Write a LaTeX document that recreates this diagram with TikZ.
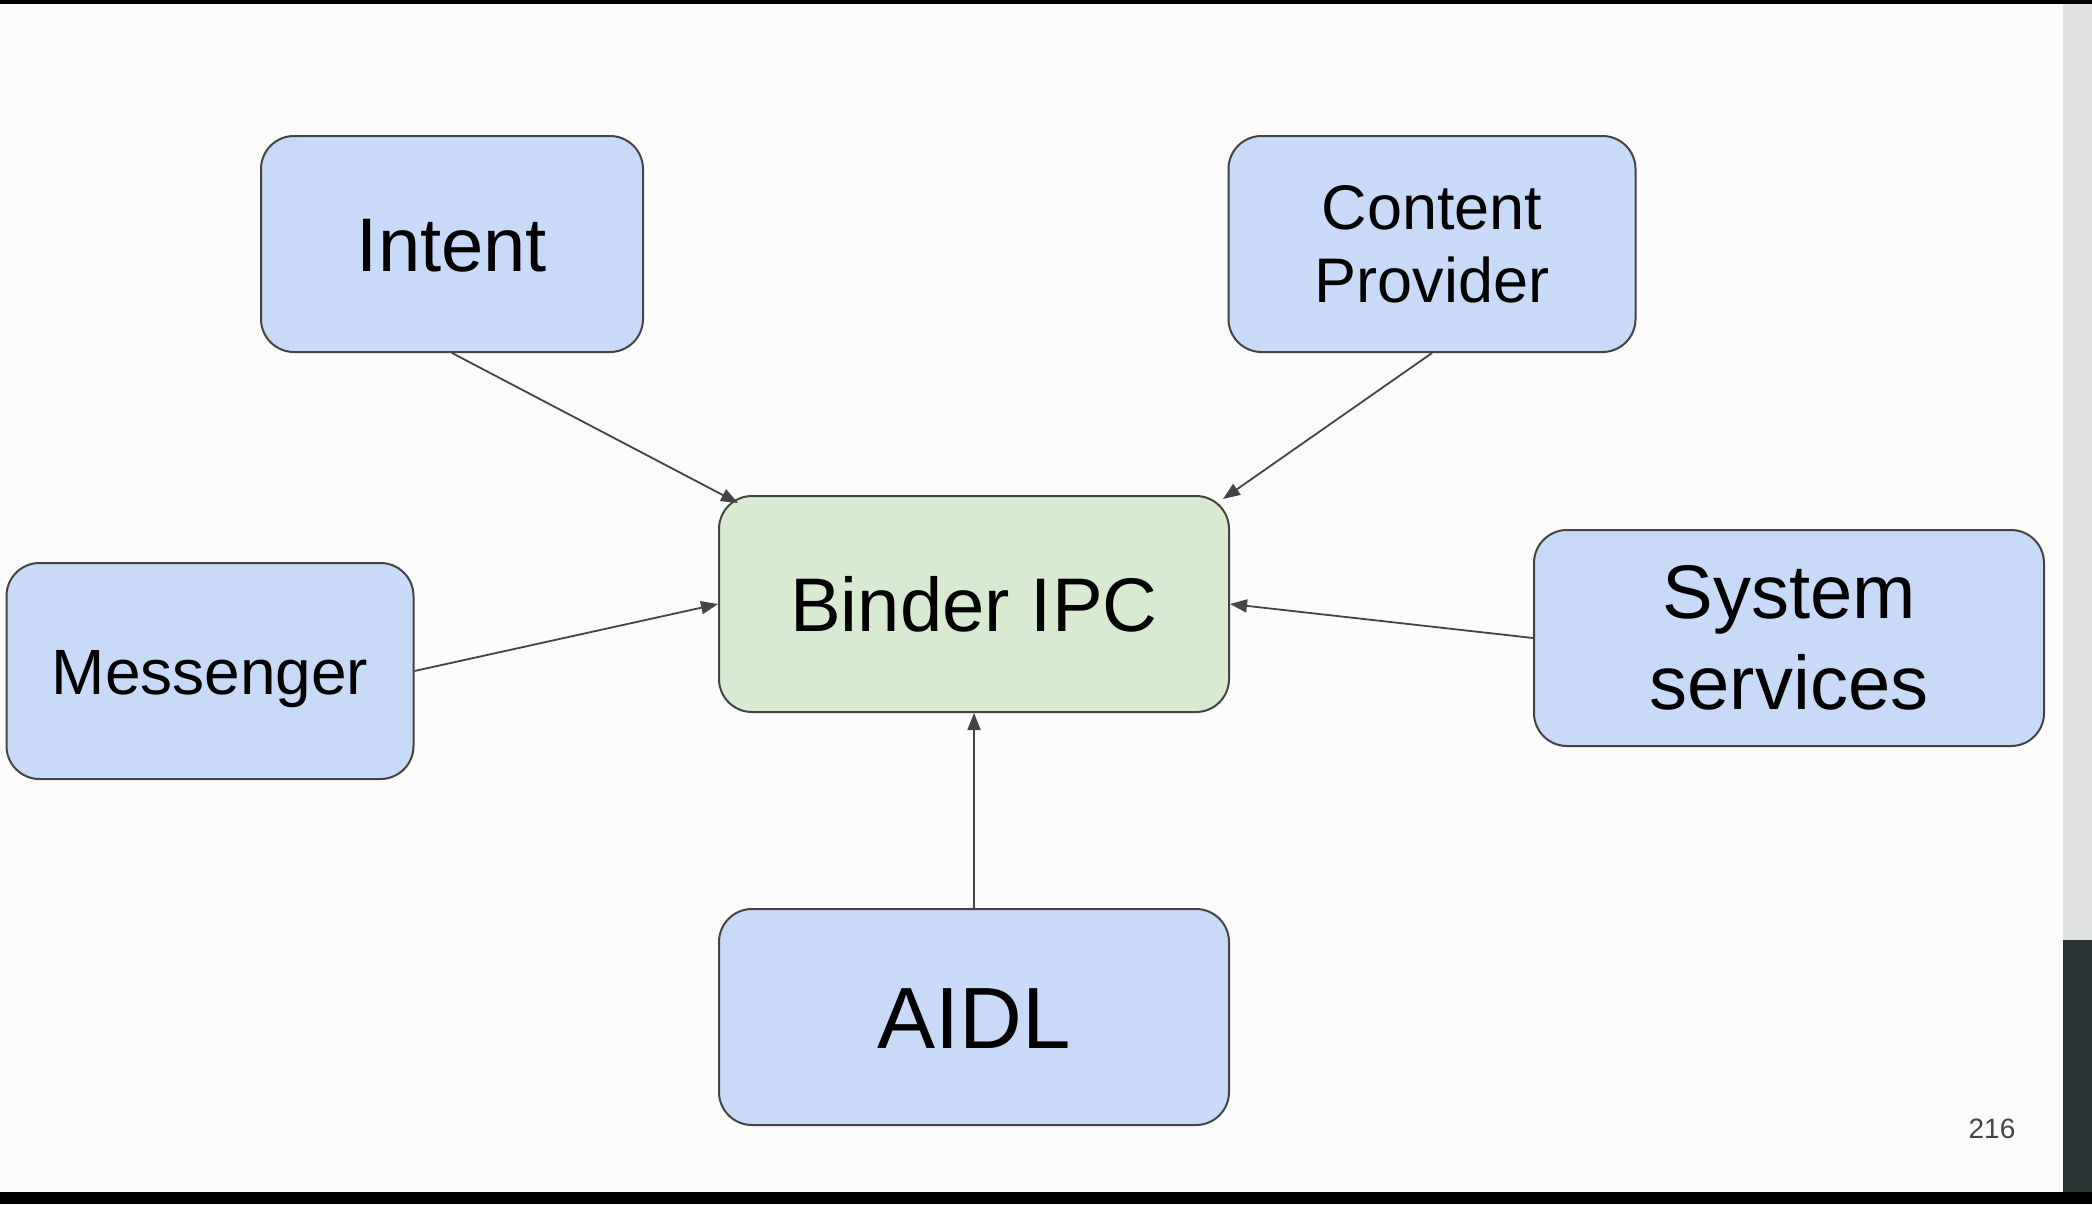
\documentclass[tikz,border=0pt]{standalone}
\usepackage{fontspec}
\setmainfont{Liberation Sans}
\usetikzlibrary{arrows.meta}
\definecolor{boxblue}{HTML}{C9DAF8}
\definecolor{boxgreen}{HTML}{D9EAD3}
\definecolor{edgegrey}{HTML}{444444}
\definecolor{bgwhite}{HTML}{FBFBFB}
\definecolor{stripgrey}{HTML}{E0E1E1}
\definecolor{stripdark}{HTML}{2B3335}
\begin{document}
\begin{tikzpicture}[x=1pt,y=-1pt,
  box/.style={draw=edgegrey, line width=2pt, rounded corners=33pt, inner sep=0pt, align=center, text=black},
  conn/.style={draw=edgegrey, line width=1.8pt, -{Triangle[length=17pt,width=13pt]}}]
\useasboundingbox (0,0) rectangle (2092,1204);
\fill[bgwhite] (0,0) rectangle (2092,1204);
\fill[stripgrey] (2063,0) rectangle (2092,1204);
\fill[stripdark] (2063,940) rectangle (2092,1204);
\fill[black] (0,0) rectangle (2092,4);
\fill[black] (0,1192) rectangle (2092,1204);

\node[box, fill=boxblue, minimum width=382pt, minimum height=216pt,
      font=\fontsize{76}{76}\selectfont, text height=54.4pt, text depth=0pt] (intent) at (452,244) {Intent};
\node[box, fill=boxblue, minimum width=407pt, minimum height=216pt,
      font=\fontsize{63}{73}\selectfont] (cp) at (1432,244) {Content\\Provider};
\node[box, fill=boxgreen, minimum width=510pt, minimum height=216pt,
      font=\fontsize{76}{76}\selectfont, text height=54.4pt, text depth=0pt] (binder) at (974,604) {Binder IPC};
\node[box, fill=boxblue, minimum width=407pt, minimum height=216pt,
      font=\fontsize{64}{64}\selectfont, text height=46pt, text depth=0pt] (msg) at (210,671) {Messenger};
\node[box, fill=boxblue, minimum width=510pt, minimum height=216pt,
      font=\fontsize{76}{91}\selectfont] (ss) at (1789,638) {System\\services};
\node[box, fill=boxblue, minimum width=510pt, minimum height=216pt,
      font=\fontsize{87}{87}\selectfont, text height=62.3pt, text depth=0pt] (aidl) at (974,1017) {AIDL};

\coordinate (bnw) at (738,503);
\coordinate (bne) at (1223,499);
\draw[conn] (intent.south) -- (bnw);
\draw[conn] (cp.south) -- (bne);
\draw[conn] (msg.east) -- (binder.west);
\draw[conn] (ss.west) -- (binder.east);
\draw[conn] (aidl.north) -- (binder.south);

\node[anchor=base, font=\fontsize{28}{28}\selectfont, text=edgegrey] (pagenum) at (1992,1138) {216};
\end{tikzpicture}
\end{document}
